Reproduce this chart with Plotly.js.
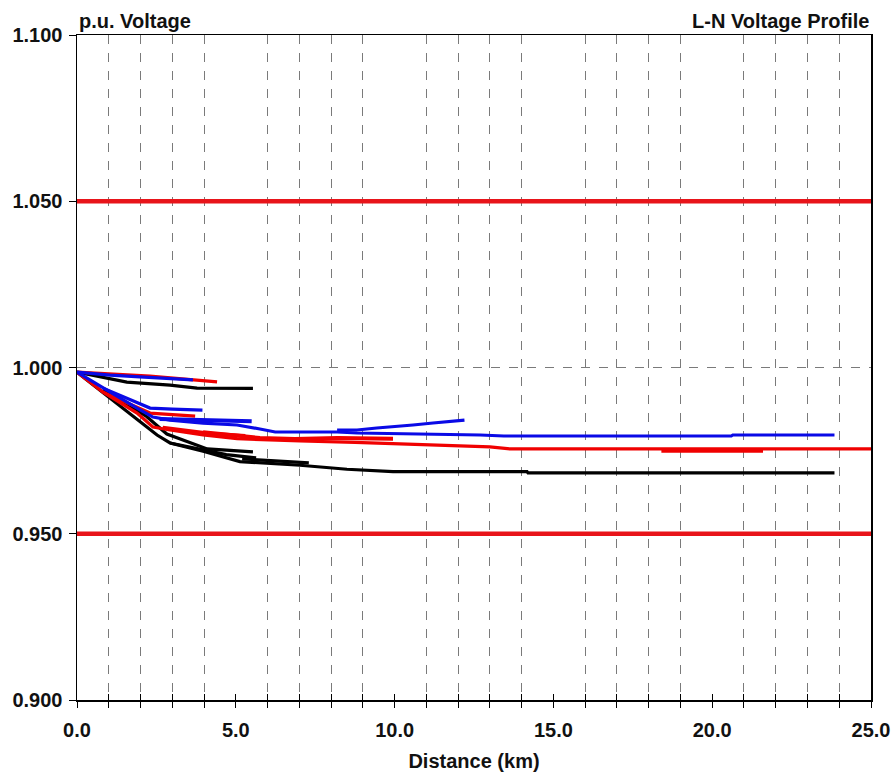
<!DOCTYPE html>
<html>
<head>
<meta charset="utf-8">
<script src="https://cdn.plot.ly/plotly-3.0.1.min.js"></script>
<style>html,body{margin:0;padding:0;background:#fff;}#chart{width:895px;height:776px;}</style>
</head>
<body>
<div id="chart"></div>
<script>
// ---- data (distance km, p.u. voltage) ----
// black phase
const blkMainX = [0, 1.04, 1.98, 2.52, 2.93, 3.97, 5.13, 6.08, 7.02, 8.5, 9.95, 14.17, 14.2, 23.85];
const blkMainV = [0.9986, 0.9908, 0.9836, 0.9797, 0.9773, 0.9748, 0.9717, 0.9711, 0.9706, 0.9694, 0.9687, 0.9687, 0.9683, 0.9683];
const blkUpX = [0, 1.57, 2.93, 3.78, 5.54];
const blkUpV = [0.9986, 0.9956, 0.9947, 0.9938, 0.9937];
const blkB2X = [0.82, 2.2, 2.83, 4.1, 5.54];
const blkB2V = [0.9935, 0.9852, 0.9800, 0.9755, 0.9746];
const blkB3X = [2.93, 4.7, 5.64];
const blkB3V = [0.9773, 0.9738, 0.9728];
const blkB4X = [5.2, 6.4, 7.3];
const blkB4V = [0.9725, 0.9719, 0.9713];
// red phase
const redMainX = [0, 0.82, 1.89, 2.39, 2.93, 3.97, 5.04, 6.08, 7.02, 8.75, 10.96, 13.0, 13.63, 25];
const redMainV = [0.9986, 0.9926, 0.9863, 0.9821, 0.9812, 0.9797, 0.9786, 0.9782, 0.9779, 0.9775, 0.9767, 0.9761, 0.9755, 0.9755];
const redUpX = [0, 1.35, 2.3, 3.4, 4.41];
const redUpV = [0.9986, 0.9980, 0.9974, 0.9965, 0.9957];
const redB2X = [0.82, 2.3, 3.72];
const redB2V = [0.9926, 0.9863, 0.9854];
const redB3X = [3.97, 5.76, 6.86, 8.2, 9.95];
const redB3V = [0.9805, 0.9788, 0.9785, 0.9788, 0.9786];
const redB4X = [2.7, 4.2, 5.3];
const redB4V = [0.9820, 0.9802, 0.9795];
const redB5X = [18.4, 21.6];
const redB5V = [0.9750, 0.9750];
// blue phase
const bluMainX = [0, 0.82, 1.89, 2.39, 2.93, 3.97, 5.04, 5.76, 6.24, 8.19, 8.82, 12.7, 13.44, 20.6, 20.65, 23.85];
const bluMainV = [0.9986, 0.9938, 0.9878, 0.9851, 0.9842, 0.9833, 0.9827, 0.9815, 0.9806, 0.9806, 0.9803, 0.9797, 0.9794, 0.9794, 0.9797, 0.9797];
const bluRiseX = [8.19, 8.82, 9.44, 9.95, 10.58, 11.21, 11.65, 12.2];
const bluRiseV = [0.9812, 0.9812, 0.9818, 0.9821, 0.9827, 0.9833, 0.9836, 0.9842];
const bluUpX = [0, 1.04, 1.98, 2.93, 3.65];
const bluUpV = [0.9986, 0.9977, 0.9972, 0.9968, 0.9963];
const bluB2X = [0.82, 2.3, 3.0, 3.95];
const bluB2V = [0.9938, 0.9878, 0.9875, 0.9872];
const bluB3X = [2.6, 4.0, 5.5];
const bluB3V = [0.9845, 0.9841, 0.9838];
// limits
const limX = [0, 25];
const limHigh = [1.05, 1.05];
const limLow = [0.95, 0.95];
const yTicks = [0.90, 0.95, 1.00, 1.05, 1.10];

const BLACK = '#000000', RED = '#f00000', BLUE = '#0a0ae6';
function tr(x, y, c, w) {
  return {x: x, y: y, type: 'scatter', mode: 'lines', line: {color: c, width: w || 3.2}, hoverinfo: 'skip', showlegend: false};
}
const data = [
  tr(blkMainX, blkMainV, BLACK), tr(blkUpX, blkUpV, BLACK), tr(blkB2X, blkB2V, BLACK), tr(blkB3X, blkB3V, BLACK), tr(blkB4X, blkB4V, BLACK),
  tr(redMainX, redMainV, RED), tr(redUpX, redUpV, RED), tr(redB2X, redB2V, RED), tr(redB3X, redB3V, RED, 4), tr(redB4X, redB4V, RED), tr(redB5X, redB5V, RED, 4),
  tr(bluMainX, bluMainV, BLUE), tr(bluRiseX, bluRiseV, BLUE), tr(bluUpX, bluUpV, BLUE), tr(bluB2X, bluB2V, BLUE), tr(bluB3X, bluB3V, BLUE, 4),
  Object.assign(tr(limX, limHigh, '#e8141a', 4.5), {xaxis: 'x2'}),
  Object.assign(tr(limX, limLow, '#e8141a', 4.5), {xaxis: 'x2'})
];

const font = {family: 'Liberation Sans, Arial, sans-serif', size: 20, color: '#111', weight: 700};
const layout = {
  width: 895, height: 776,
  margin: {l: 77, r: 24, t: 35, b: 76},
  paper_bgcolor: '#fff', plot_bgcolor: '#fff',
  font: font,
  showlegend: false,
  xaxis: {
    range: [0, 25], dtick: 5, tick0: 0, tickformat: '.1f',
    ticks: 'outside', ticklen: 6, tickcolor: '#000', tickwidth: 1,
    showline: true, linecolor: '#000', linewidth: 1.5, mirror: true,
    showgrid: false, zeroline: false,
    minor: {dtick: 1, tick0: 0, ticks: 'outside', ticklen: 6, tickcolor: '#000', showgrid: true, gridcolor: '#7a7a7a', griddash: 'dash', gridwidth: 1},
    title: {text: 'Distance (km)', font: font, standoff: 14},
    tickfont: font,
    ticklabelstandoff: 5
  },
  xaxis2: {
    overlaying: 'x', range: [0, 25], dtick: 1, tick0: 0, ticks: 'inside', ticklen: 6, tickcolor: '#000',
    showticklabels: false, showgrid: false, showline: false, zeroline: false, side: 'bottom'
  },
  yaxis: {
    range: [0.9, 1.1], tickvals: yTicks, tickformat: '.3f',
    ticks: 'outside', ticklen: 7, tickcolor: '#000',
    showline: true, linecolor: '#000', linewidth: 1.5, mirror: true,
    showgrid: true, gridcolor: '#7a7a7a', griddash: 'dash', gridwidth: 1, zeroline: false,
    tickfont: font, ticklabelstandoff: 2
  },
  annotations: [
    {text: 'p.u. Voltage', xref: 'paper', yref: 'paper', x: 0, y: 1, xanchor: 'left', yanchor: 'bottom', showarrow: false, font: font, yshift: 1},
    {text: 'L-N Voltage Profile', xref: 'paper', yref: 'paper', x: 1, y: 1, xanchor: 'right', yanchor: 'bottom', showarrow: false, font: font, yshift: 1}
  ]
};
Plotly.newPlot('chart', data, layout, {staticPlot: true, displayModeBar: false});
</script>
</body>
</html>
